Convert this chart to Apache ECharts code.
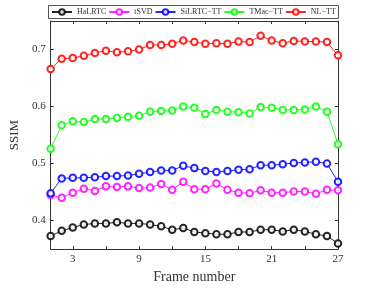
<!DOCTYPE html>
<html><head><meta charset="utf-8">
<script src="https://cdn.jsdelivr.net/npm/echarts@6/dist/echarts.min.js"></script>
<style>html,body{margin:0;padding:0;background:#fff}#c{width:374px;height:289px}</style>
</head><body><div id="c"></div>
<script>
const frames = [1,2,3,4,5,6,7,8,9,10,11,12,13,14,15,16,17,18,19,20,21,22,23,24,25,26,27];
const HaLRTC = [0.373,0.382,0.388,0.393,0.395,0.395,0.397,0.395,0.395,0.393,0.390,0.384,0.387,0.380,0.378,0.376,0.376,0.380,0.380,0.384,0.384,0.381,0.384,0.381,0.376,0.373,0.360];
const tSVD = [0.445,0.440,0.449,0.456,0.452,0.460,0.459,0.460,0.457,0.458,0.464,0.454,0.468,0.455,0.455,0.465,0.454,0.449,0.448,0.453,0.449,0.449,0.451,0.451,0.447,0.454,0.453];
const SiLRTC_TT = [0.448,0.474,0.475,0.475,0.476,0.478,0.478,0.479,0.482,0.485,0.488,0.488,0.496,0.492,0.487,0.485,0.487,0.489,0.490,0.497,0.497,0.499,0.501,0.502,0.503,0.500,0.468];
const TMac_TT = [0.526,0.567,0.574,0.573,0.578,0.578,0.580,0.582,0.584,0.591,0.592,0.593,0.600,0.598,0.587,0.594,0.591,0.590,0.588,0.599,0.598,0.594,0.594,0.595,0.600,0.591,0.534];
const NL_TT = [0.666,0.684,0.685,0.689,0.694,0.698,0.695,0.697,0.700,0.708,0.708,0.710,0.716,0.713,0.710,0.711,0.710,0.714,0.713,0.724,0.716,0.711,0.715,0.714,0.714,0.713,0.690];
const seriesNames = ['HaLRTC','tSVD','SiLRTC\u2212TT','TMac\u2212TT','NL\u2212TT'];
const seriesColors = ['#000000','#ff00ff','#0000ff','#00ff00','#ff0000'];
const seriesValues = [HaLRTC,tSVD,SiLRTC_TT,TMac_TT,NL_TT];
const xTicks = [3,6,9,12,15,18,21,24,27];
const xLabels = [3,9,15,21,27];
const yTicks = [0.4,0.5,0.6,0.7];

const font = 'Liberation Serif';
const chart = echarts.init(document.getElementById('c'));
const axisLine = {show:true, lineStyle:{color:'#333', width:1}};
const series = seriesValues.map((vals,i)=>({
  name: seriesNames[i], type:'line', xAxisIndex:0, yAxisIndex:0,
  data: frames.map((f,j)=>[f, vals[j]]),
  symbol:'emptyCircle', symbolSize:6.5,
  lineStyle:{color:seriesColors[i], width:1, opacity:0.85},
  itemStyle:{color:seriesColors[i], borderColor:seriesColors[i], borderWidth:0.8, opacity:0.85},
  emphasis:{disabled:true}, animation:false
}));
chart.setOption({
  animation:false,
  grid:{left:48, right:36, top:21, bottom:32},
  graphic:[{
    type:'rect', left:48, top:5, z:-1,
    shape:{width:290, height:13},
    style:{fill:'#fff', stroke:'#555', lineWidth:1}
  }],
  legend:{
    top:8, left:51,
    data: seriesNames,
    padding:0, itemGap:2,
    itemWidth:20, itemHeight:7,
    textStyle:{fontFamily:font, fontSize:8, color:'#333'}
  },
  xAxis:[{
    type:'value', min:1, max:27, position:'bottom',
    name:'Frame number', nameLocation:'middle', nameGap:18,
    nameTextStyle:{fontFamily:font, fontSize:14, color:'#333'},
    axisLine, splitLine:{show:false},
    axisTick:{show:true, inside:true, length:3, customValues:xTicks, lineStyle:{color:'#333'}},
    axisLabel:{customValues:xLabels, fontFamily:font, fontSize:11, color:'#333', margin:5}
  },{
    type:'value', min:1, max:27, position:'top',
    axisLine, splitLine:{show:false},
    axisTick:{show:true, inside:true, length:3, customValues:xTicks, lineStyle:{color:'#333'}},
    axisLabel:{show:false}
  }],
  yAxis:[{
    type:'value', min:0.35, max:0.75, position:'left',
    name:'SSIM', nameLocation:'middle', nameGap:26,
    nameTextStyle:{fontFamily:font, fontSize:13, color:'#333'},
    axisLine, splitLine:{show:false},
    axisTick:{show:true, inside:true, length:3, customValues:yTicks, lineStyle:{color:'#333'}},
    axisLabel:{customValues:yTicks, formatter:v=>v.toFixed(1), fontFamily:font, fontSize:11, color:'#333', margin:5}
  },{
    type:'value', min:0.35, max:0.75, position:'right',
    axisLine, splitLine:{show:false},
    axisTick:{show:true, inside:true, length:3, customValues:yTicks, lineStyle:{color:'#333'}},
    axisLabel:{show:false}
  }],
  series
});
</script></body></html>
